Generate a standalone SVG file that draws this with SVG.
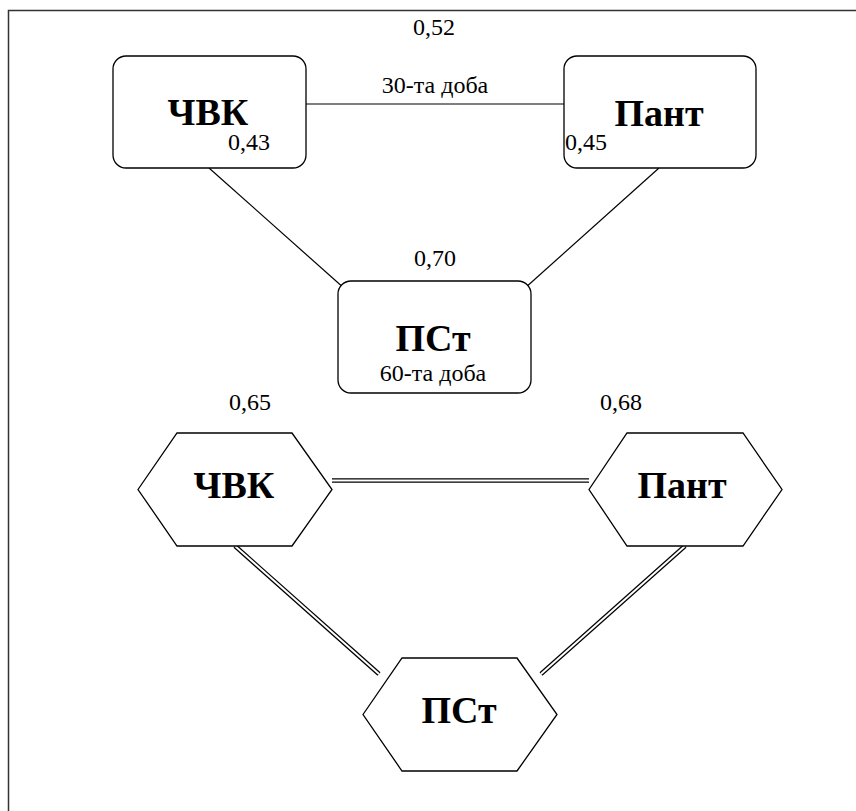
<svg xmlns="http://www.w3.org/2000/svg" width="856" height="811" viewBox="0 0 856 811">
<style>
.box{fill:#fff;stroke:#000;stroke-width:1.3}
.big{font-family:'Liberation Serif','Times New Roman','DejaVu Serif',serif;font-weight:bold;font-size:38px;text-anchor:middle;fill:#000}
.sm{font-family:'Liberation Serif','Times New Roman','DejaVu Serif',serif;font-size:24px;fill:#000}
.c{text-anchor:middle}
.ln{stroke:#000;stroke-width:1.2;fill:none}
.dbo{stroke:#000;stroke-width:4.5;fill:none}
.dbi{stroke:#fff;stroke-width:2;fill:none}
</style>
<rect width="856" height="811" fill="#fff"/>
<path d="M8.5 811 V10.5 H856" fill="none" stroke="#333" stroke-width="1.5"/>
<g id="connectors">
<line class="ln" x1="306" y1="104" x2="564" y2="104"/>
<line class="ln" x1="209" y1="168" x2="354" y2="297"/>
<line class="ln" x1="659" y1="168" x2="515" y2="297"/>
<line class="dbo" x1="332" y1="480.5" x2="589" y2="480.5"/>
<line class="dbi" x1="332" y1="480.5" x2="589" y2="480.5"/>
<line class="dbo" x1="235" y1="546" x2="379" y2="674"/>
<line class="dbi" x1="235" y1="546" x2="379" y2="674"/>
<line class="dbo" x1="685" y1="546" x2="541" y2="674"/>
<line class="dbi" x1="685" y1="546" x2="541" y2="674"/>
</g>
<g id="label-052"><text class="sm c" x="434" y="35" font-family="Liberation Serif, serif">0,52</text></g>
<g id="label-30"><text class="sm c" x="435" y="93" font-family="Liberation Serif, serif">30-та доба</text></g>
<g id="n-chvk1">
<rect class="box" x="113" y="56" width="193" height="112" rx="13"/>
<text class="big" x="208" y="125">ЧВК</text>
<text class="sm" x="228" y="150">0,43</text>
</g>
<g id="n-pant1">
<rect class="box" x="564" y="56" width="192" height="112" rx="13"/>
<text class="big" x="659" y="126">Пант</text>
<text class="sm" x="565" y="150">0,45</text>
</g>
<g id="n-pst1">
<text class="sm c" x="435" y="266">0,70</text>
<rect class="box" x="338" y="281" width="193" height="112" rx="13"/>
<text class="big" x="433" y="351">ПСт</text>
<text class="sm c" x="433" y="381">60-та доба</text>
</g>
<g id="n-chvk2">
<text class="sm c" x="250" y="410">0,65</text>
<polygon class="box" points="138,489.5 177,433 292,433 332,489.5 292,546 177,546"/>
<text class="big" x="234" y="498">ЧВК</text>
</g>
<g id="n-pant2">
<text class="sm c" x="621" y="410">0,68</text>
<polygon class="box" points="589,489.5 627,433 743,433 782,489.5 743,546 627,546"/>
<text class="big" x="682" y="498">Пант</text>
</g>
<g id="n-pst2">
<polygon class="box" points="363,714.5 402,658 517,658 557,714.5 517,771 402,771"/>
<text class="big" x="459" y="723">ПСт</text>
</g>
</svg>
